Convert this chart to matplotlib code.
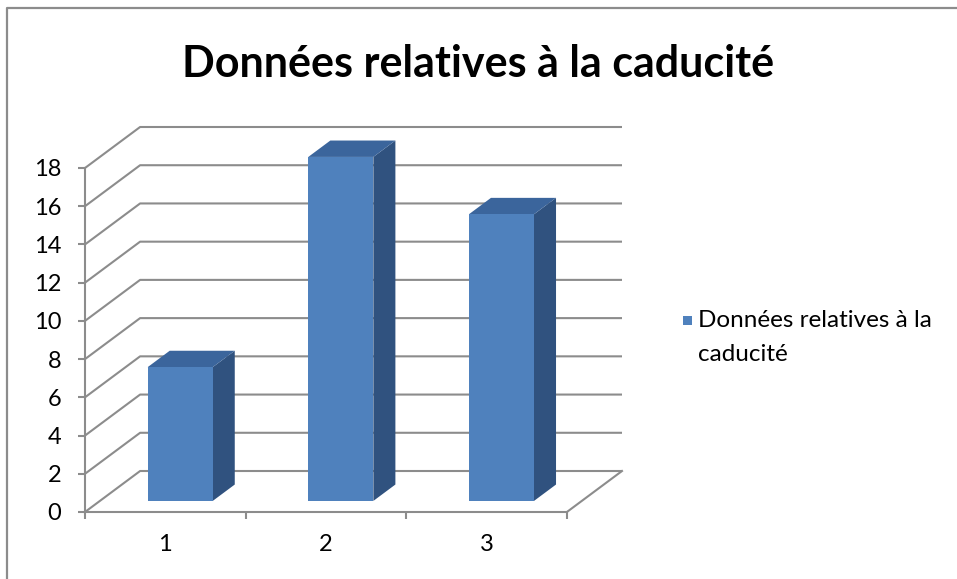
import matplotlib
matplotlib.use("Agg")
import matplotlib.pyplot as plt
from matplotlib.patches import Polygon, Rectangle
from matplotlib.lines import Line2D

# data
categories = ["1", "2", "3"]
values = [7, 18, 15]
y_ticks = [0, 2, 4, 6, 8, 10, 12, 14, 16, 18]
title = "Données relatives à la caducité"
series_lines = ["Données relatives à la", "caducité"]

FRONT = "#4F81BD"
SIDE = "#30527F"
TOP = "#3B659C"
GRID = "#8C8C8C"

W, H = 957, 579
DEPTH_X = 0.343   # back-wall shift, in category units
DEPTH_Y = 2.145   # back-wall shift, in value units
BAR_WIDTH = 0.405
BAR_D0, BAR_D1 = 0.27, 0.67   # bar depth span (0 = front, 1 = back wall)

plt.rcParams["font.family"] = ["Lato", "DejaVu Sans"]

fig = plt.figure(figsize=(W / 100, H / 100), dpi=100)
ax = fig.add_axes([85 / W, 1 - 512 / H, (622 - 85) / W, (512 - 127) / H])
n = len(categories)
ax.set_xlim(0.5, n + 0.5 + DEPTH_X)
ax.set_ylim(0, y_ticks[-1] + DEPTH_Y)

# side wall + back wall gridlines
for v in y_ticks:
    ax.plot([0.5, 0.5 + DEPTH_X, n + 0.5 + DEPTH_X],
            [v, v + DEPTH_Y, v + DEPTH_Y],
            color=GRID, lw=1.5, zorder=1, clip_on=False, solid_capstyle="butt")
# right edge of the floor
ax.plot([n + 0.5, n + 0.5 + DEPTH_X], [0, DEPTH_Y], color=GRID, lw=1.5,
        zorder=1, clip_on=False)

# 3d-looking columns
for i, v in enumerate(values):
    x0 = i + 1 - BAR_WIDTH / 2
    x1 = x0 + BAR_WIDTH
    fx0, fy0 = BAR_D0 * DEPTH_X, BAR_D0 * DEPTH_Y
    fx1, fy1 = BAR_D1 * DEPTH_X, BAR_D1 * DEPTH_Y
    front = [(x0 + fx0, fy0), (x1 + fx0, fy0), (x1 + fx0, v + fy0), (x0 + fx0, v + fy0)]
    side = [(x1 + fx0, fy0), (x1 + fx1, fy1), (x1 + fx1, v + fy1), (x1 + fx0, v + fy0)]
    top = [(x0 + fx0, v + fy0), (x1 + fx0, v + fy0), (x1 + fx1, v + fy1), (x0 + fx1, v + fy1)]
    for pts, col in ((side, SIDE), (top, TOP), (front, FRONT)):
        ax.add_patch(Polygon(pts, closed=True, facecolor=col, edgecolor="none",
                             zorder=3, clip_on=False))

# axes
for s in ("top", "right"):
    ax.spines[s].set_visible(False)
for s in ("left", "bottom"):
    ax.spines[s].set_color(GRID)
    ax.spines[s].set_linewidth(1.5)
ax.spines["left"].set_bounds(0, y_ticks[-1])
ax.spines["bottom"].set_bounds(0.5, n + 0.5)

ax.set_yticks(y_ticks)
ax.set_yticklabels([str(t) for t in y_ticks])
ax.tick_params(axis="y", direction="out", length=5, width=1.5, color=GRID,
               labelsize=17, pad=12)
ax.set_xticks([k + 0.5 for k in range(n + 1)])
ax.set_xticklabels([])
ax.set_xticks(range(1, n + 1), minor=True)
ax.set_xticklabels(categories, minor=True)
ax.tick_params(axis="x", which="major", direction="out", length=5, width=1.5, color=GRID)
ax.tick_params(axis="x", which="minor", length=0, labelsize=17, pad=16)
ax.set_facecolor("none")

# title
fig.text(478 / W, 1 - 77 / H, title, ha="center", va="baseline",
         fontsize=31, fontweight="bold")

# legend
fig.patches.append(Rectangle((683 / W, 1 - 325 / H), 9 / W, 9 / H,
                             transform=fig.transFigure, facecolor=FRONT,
                             edgecolor="none"))
for k, line in enumerate(series_lines):
    fig.text(698 / W, 1 - (327 + 34 * k) / H, line, ha="left", va="baseline",
             fontsize=17.5)

# chart frame (left and top edges visible)
fig.lines.append(Line2D([7.5 / W, 7.5 / W, 1.0], [0.0, 1 - 8 / H, 1 - 8 / H],
                        transform=fig.transFigure, color=GRID, lw=1.6))

fig.savefig("out.png", dpi=100, facecolor="white")
